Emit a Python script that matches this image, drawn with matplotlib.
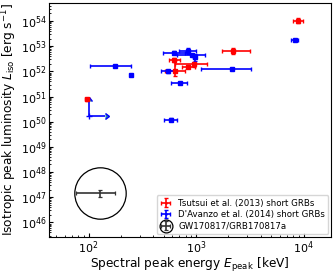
import numpy as np
import matplotlib
matplotlib.use('Agg')
import matplotlib.pyplot as plt

# Tsutsui et al. (2013) short GRBs
E_tsu = [8900, 2190, 618, 641, 851, 955, 97]
E_tsu_lo = [1000, 460, 63, 128, 103, 314, 5]
E_tsu_hi = [1030, 960, 95, 157, 117, 310, 5]
L_tsu = [1.03e54, 6.5e52, 2.83e52, 1.0e52, 1.56e52, 1.88e52, 7.7e50]
L_tsu_lo = [0.21e54, 1.4e52, 0.4e52, 0.32e52, 0.25e52, 0.38e52, 0.8e50]
L_tsu_hi = [0.27e54, 1.8e52, 0.5e52, 1.83e52, 0.3e52, 0.48e52, 0.8e50]

# D'Avanzo et al. (2014) short GRBs
E_dav = [8240, 176, 246, 621, 845, 914, 968, 547, 2170, 706, 579]
E_dav_lo = [550, 73, 0, 128, 153, 252, 40, 79, 1060, 118, 78]
E_dav_hi = [690, 73, 0, 164, 160, 302, 40, 84, 1090, 122, 89]
L_dav = [1.78e53, 1.68e52, 7.0e51, 5.6e52, 6.5e52, 4.5e52, 3.6e52, 1.0e52, 1.24e52, 3.4e51, 1.21e50]
L_dav_lo = [0.2e53, 0.1e52, 0, 0.5e52, 1.5e52, 0.3e52, 1.0e52, 0.1e52, 0.1e52, 0.3e51, 0.15e50]
L_dav_hi = [0.2e53, 0.1e52, 0, 0.6e52, 1.9e52, 0.3e52, 1.3e52, 0.1e52, 0.1e52, 0.3e51, 0.17e50]

# D'Avanzo lower limit point
E_lim, E_lim_err = 102, 40
L_lim, L_lim_err = 1.65e50, 5.0e50

# GW170817 / GRB170817a
E_gw, E_gw_lo, E_gw_hi = 127, 50, 49
L_gw, L_gw_lo, L_gw_hi = 1.44e47, 0.44e47, 0.52e47

fig = plt.figure(figsize=(3.34, 2.74), dpi=100)
ax = fig.add_axes([0.147, 0.136, 0.844, 0.853])

ax.errorbar(E_tsu, L_tsu, xerr=[E_tsu_lo, E_tsu_hi], yerr=[L_tsu_lo, L_tsu_hi],
            fmt='s', color='r', ms=3, elinewidth=1.2, capsize=1.5,
            label='Tsutsui et al. (2013) short GRBs')
ax.errorbar(E_dav, L_dav, xerr=[E_dav_lo, E_dav_hi], yerr=[L_dav_lo, L_dav_hi],
            fmt='s', color='b', ms=3, elinewidth=1.2, capsize=1.5,
            label="D'Avanzo et al. (2014) short GRBs")
ax.errorbar(E_lim, L_lim, xerr=E_lim_err, yerr=L_lim_err, xlolims=True, lolims=True,
            fmt='none', ecolor='b', elinewidth=1.2, capsize=2)
ax.errorbar(E_gw, L_gw, xerr=[[E_gw_lo], [E_gw_hi]], yerr=[[L_gw_lo], [L_gw_hi]],
            fmt='o', mfc='none', mec='k', ms=37, mew=0.9, ecolor='0.2',
            elinewidth=1.2, capsize=1.5, label='GW170817/GRB170817a')

ax.set_xscale('log')
ax.set_yscale('log')
ax.set_xlim(43, 18000)
ax.set_ylim(2.7e45, 5.2e54)
ax.tick_params(which='both', direction='in', labelsize=8, pad=2)
ax.tick_params(which='major', length=3)
ax.tick_params(which='minor', length=1.5)
ax.set_xlabel(r'Spectral peak energy $E_{\rm peak}$ [keV]', fontsize=8.7, labelpad=0)
ax.set_ylabel(r'Isotropic peak luminosity $L_{\rm iso}$ [erg s$^{-1}$]', fontsize=8.7, labelpad=1)
ax.legend(loc='lower right', fontsize=6.2, markerscale=0.25, handletextpad=0.8,
          borderaxespad=0.3, labelspacing=0.3, handlelength=1.3)

fig.savefig('out.png', dpi=100)
